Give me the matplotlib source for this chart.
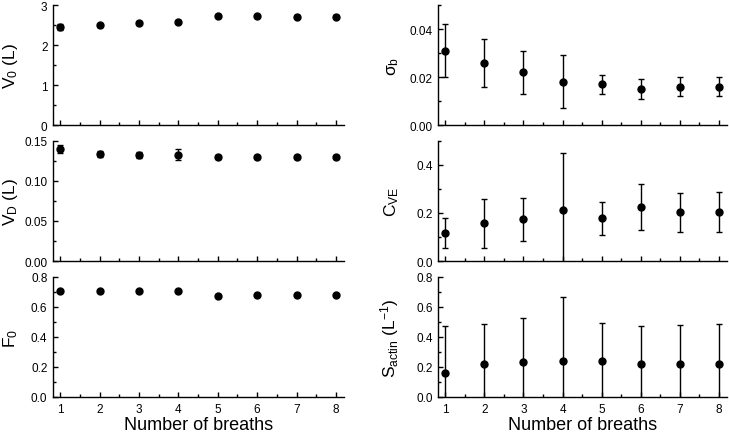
import matplotlib
matplotlib.use('Agg')
import matplotlib.pyplot as plt
from matplotlib.ticker import MultipleLocator, FormatStrFormatter

plt.rcParams['font.family'] = ['Liberation Sans', 'DejaVu Sans']
plt.rcParams['mathtext.default'] = 'regular'

# DATA
breaths = [1, 2, 3, 4, 5, 6, 7, 8]

v0 = [2.45, 2.49, 2.55, 2.58, 2.72, 2.72, 2.71, 2.71]
v0_err = [0.08, 0.04, 0.04, 0.04, 0.03, 0.03, 0.03, 0.03]

vd = [0.140, 0.134, 0.1325, 0.133, 0.130, 0.130, 0.130, 0.130]
vd_err = [0.005, 0.004, 0.004, 0.0065, 0.003, 0.003, 0.003, 0.003]

f0 = [0.707, 0.707, 0.704, 0.707, 0.673, 0.677, 0.677, 0.677]
f0_err = [0.004, 0.004, 0.004, 0.004, 0.004, 0.004, 0.004, 0.004]

sigma_b = [0.031, 0.026, 0.022, 0.018, 0.017, 0.015, 0.016, 0.016]
sigma_b_err = [0.011, 0.010, 0.009, 0.011, 0.004, 0.004, 0.004, 0.004]

c_ve = [0.117, 0.158, 0.174, 0.2125, 0.178, 0.224, 0.203, 0.203]
c_ve_err = [0.063, 0.102, 0.089, 0.236, 0.068, 0.095, 0.082, 0.083]

s_actin = [0.162, 0.220, 0.236, 0.242, 0.238, 0.220, 0.220, 0.220]
s_actin_err = [0.311, 0.267, 0.293, 0.425, 0.253, 0.253, 0.258, 0.264]

# PANEL SETUP: (values, errors, ylabel, ymax, major step, minor step)
panels = [
    [(v0, v0_err, 'V$_0$ (L)', 3.0, 1.0, 0.5),
     (vd, vd_err, 'V$_D$ (L)', 0.15, 0.05, 0.025),
     (f0, f0_err, 'F$_0$', 0.8, 0.2, 0.1)],
    [(sigma_b, sigma_b_err, 'σ$_b$', 0.05, 0.02, 0.01),
     (c_ve, c_ve_err, 'C$_{VE}$', 0.5, 0.2, 0.1),
     (s_actin, s_actin_err, 'S$_{actin}$ (L$^{-1}$)', 0.8, 0.2, 0.1)],
]
yfmt = {3.0: '%d', 0.15: '%.2f', 0.05: '%.2f'}


def main():
    fig = plt.figure(figsize=(7.29, 4.35), dpi=100)
    lefts = [0.0727, 0.601]
    widths = [0.399, 0.396]
    label_x = [-0.115, -0.13]
    bottoms = [0.7103, 0.3977, 0.0851]
    h = 0.2759

    for col in range(2):
        for row in range(3):
            vals, errs, lab, ymax, maj, mnr = panels[col][row]
            ax = fig.add_axes([lefts[col], bottoms[row], widths[col], h])
            ax.errorbar(breaths, vals, yerr=errs, fmt='o', color='black',
                        ms=5, elinewidth=1.0, capsize=2.2, capthick=1.0)
            ax.set_xlim(0.82, 8.2)
            ax.set_ylim(0, ymax)
            for s in ['top', 'right']:
                ax.spines[s].set_visible(False)
            for s in ['left', 'bottom']:
                ax.spines[s].set_linewidth(1.0)
            ax.xaxis.set_major_locator(MultipleLocator(1))
            ax.xaxis.set_minor_locator(MultipleLocator(0.5))
            ax.yaxis.set_major_locator(MultipleLocator(maj))
            ax.yaxis.set_minor_locator(MultipleLocator(mnr))
            ax.yaxis.set_major_formatter(FormatStrFormatter(yfmt.get(ymax, '%.1f')))
            ax.tick_params(which='major', direction='in', length=3.6, width=1.0,
                           labelsize=8.5, pad=4)
            ax.tick_params(which='minor', direction='in', length=2, width=1.0)
            ax.set_ylabel(lab, fontsize=12.5)
            ax.yaxis.set_label_coords(label_x[col], 0.5)
            if row < 2:
                ax.tick_params(axis='x', labelbottom=False)
            else:
                ax.set_xlabel('Number of breaths', fontsize=13, labelpad=1)

    fig.savefig('out.png', dpi=100)


if __name__ == "__main__":
    main()
